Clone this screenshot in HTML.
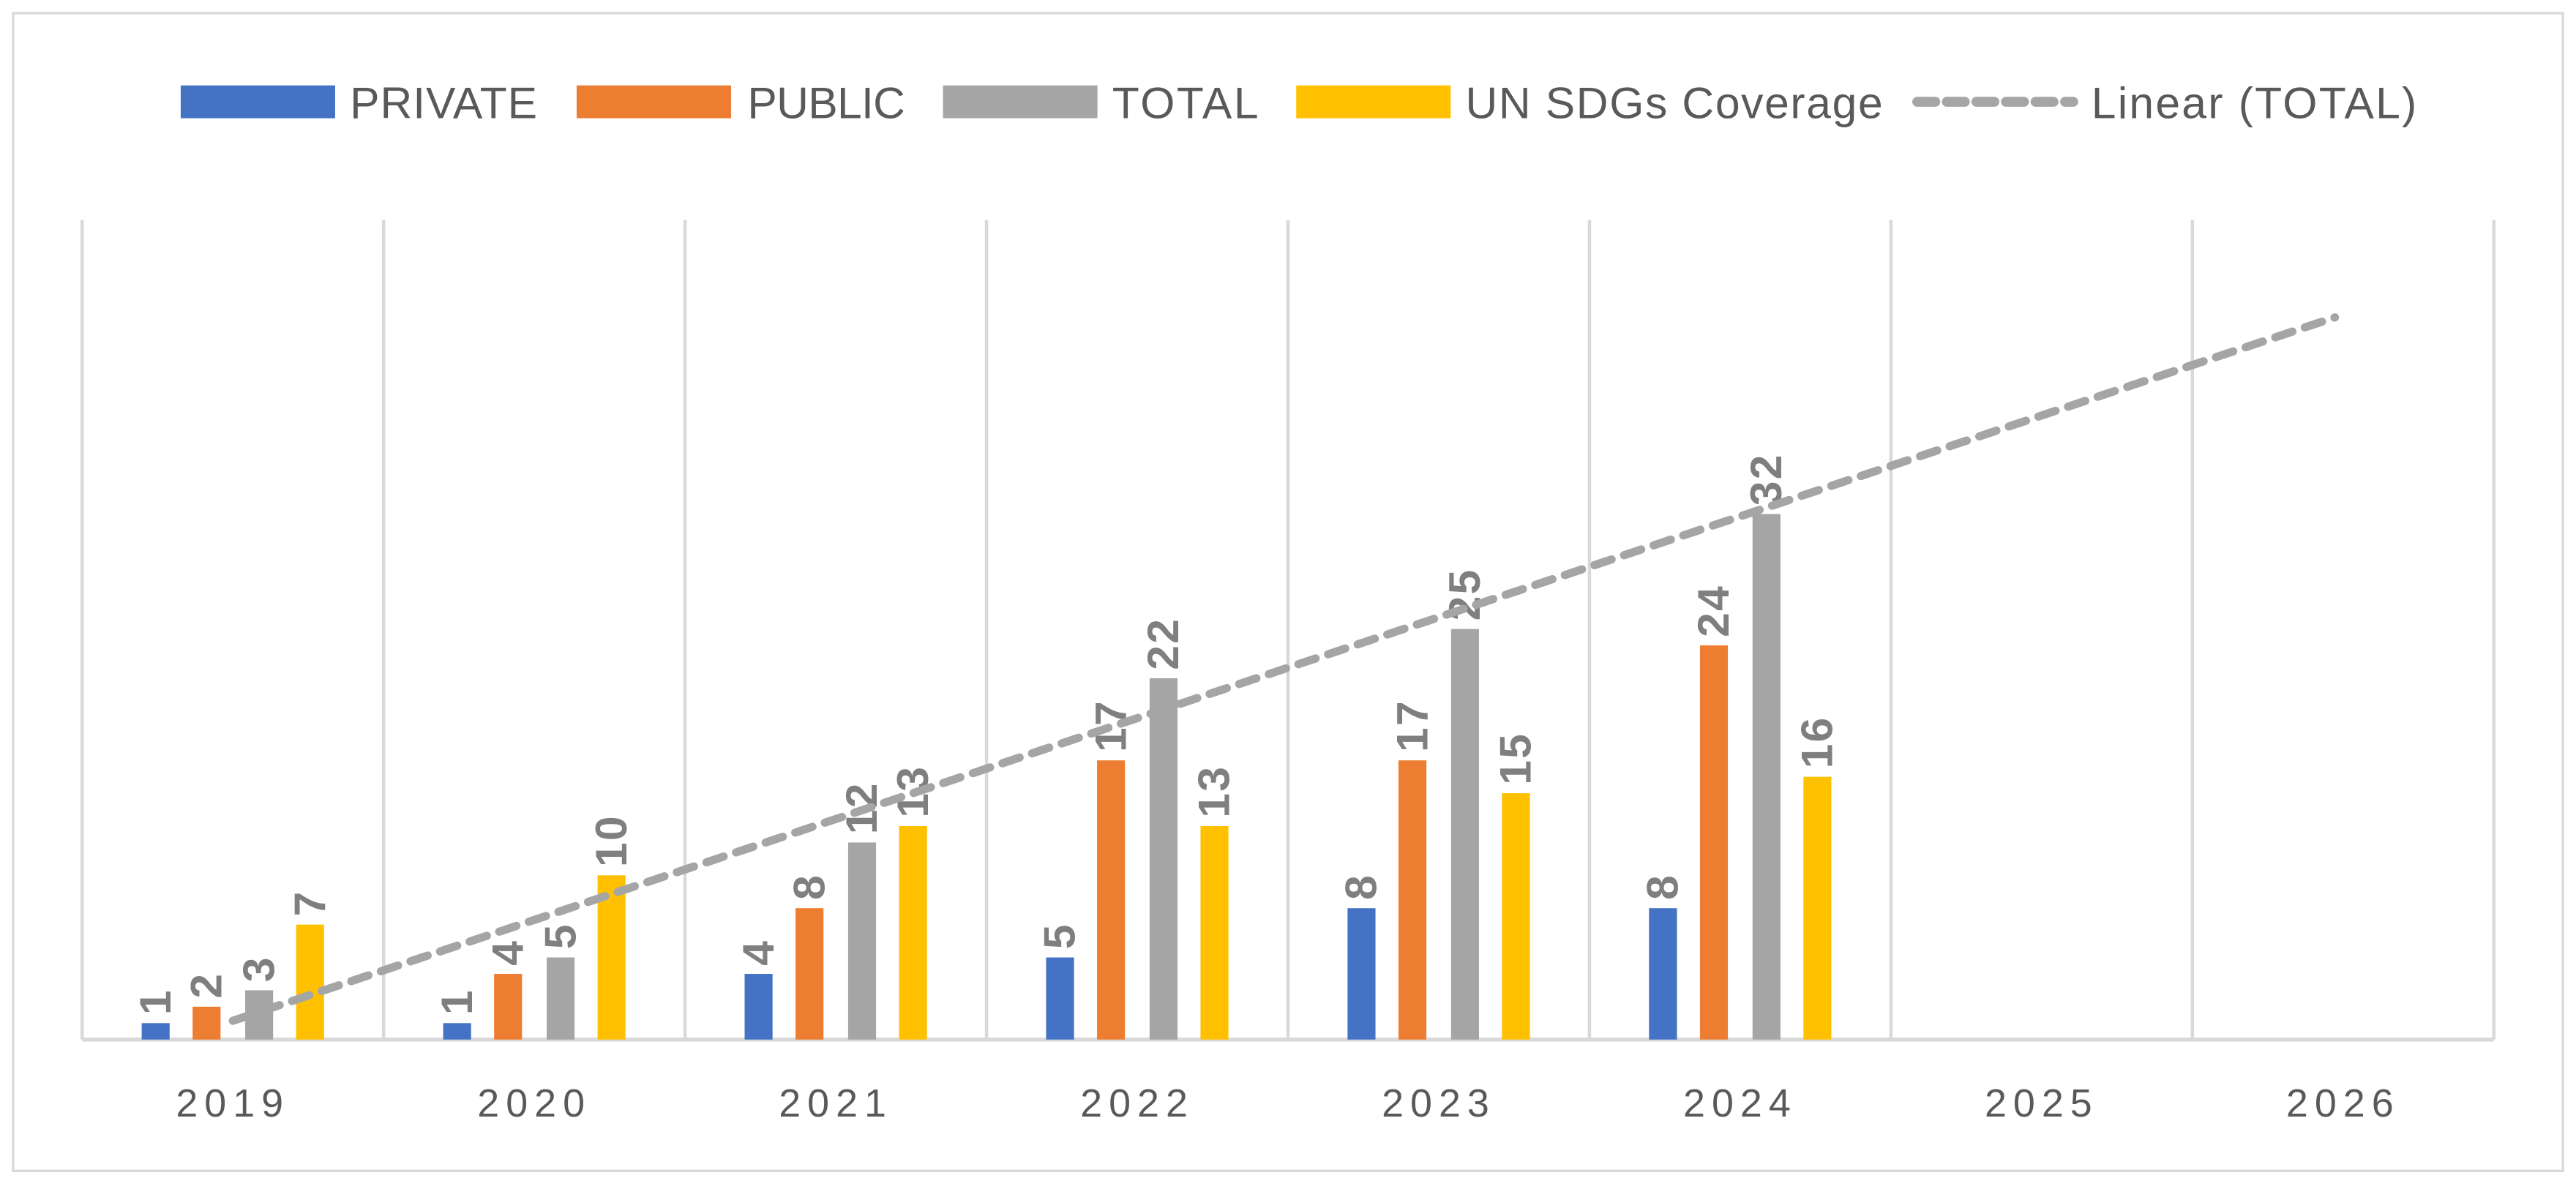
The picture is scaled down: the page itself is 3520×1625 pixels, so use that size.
<!DOCTYPE html>
<html><head><meta charset="utf-8"><style>
html,body{margin:0;padding:0;background:#fff}
svg{display:block}
text{font-family:"Liberation Sans",sans-serif}
</style></head><body>
<svg id="chart" width="3520" height="1625" viewBox="0 0 1568 724" preserveAspectRatio="none" xmlns="http://www.w3.org/2000/svg">
<rect x="8" y="8" width="1552" height="705" fill="#fff" stroke="#d9d9d9" stroke-width="1.5"/>
<g id="grid"></g>
<g id="bars"></g>
<g id="labels"></g>
<g id="legend">
 <g><rect x="110" y="52" width="94" height="20" fill="#4472c4"/><text x="213" y="72" font-size="27" fill="#595959" textLength="114">PRIVATE</text></g>
 <g><rect x="351" y="52" width="94" height="20" fill="#ed7d31"/><text x="455" y="72" font-size="27" fill="#595959" textLength="96">PUBLIC</text></g>
 <g><rect x="574" y="52" width="94" height="20" fill="#a5a5a5"/><text x="677" y="72" font-size="27" fill="#595959" textLength="89">TOTAL</text></g>
 <g><rect x="789" y="52" width="94" height="20" fill="#ffc000"/><text x="892" y="72" font-size="27" fill="#595959" textLength="254">UN SDGs Coverage</text></g>
 <g><line x1="1167" y1="62" x2="1262" y2="62" stroke="#a5a5a5" stroke-width="6" stroke-dasharray="11 7" stroke-linecap="round"/><text x="1273" y="72" font-size="27" fill="#595959" textLength="198">Linear (TOTAL)</text></g>
</g>
</svg>
<script>
const categories=["2019","2020","2021","2022","2023","2024","2025","2026"];
const privateVals=[1,1,4,5,8,8,null,null];
const publicVals=[2,4,8,17,17,24,null,null];
const totalVals=[3,5,12,22,25,32,null,null];
const sdgVals=[7,10,13,13,15,16,null,null];
const NS="http://www.w3.org/2000/svg";
const plotLeft=50,plotRight=1518,plotBase=633,plotTop=134,pxPerUnit=10;
const bw=(plotRight-plotLeft)/categories.length;
const xc=i=>plotLeft+bw*(i+0.5);
const yv=v=>plotBase-v*pxPerUnit;
function mk(tag,attrs,parent){const e=document.createElementNS(NS,tag);for(const k in attrs)e.setAttribute(k,attrs[k]);parent.appendChild(e);return e;}
const grid=document.getElementById('grid'),bars=document.getElementById('bars'),labels=document.getElementById('labels');
for(let i=0;i<=categories.length;i++){
 const l=mk('line',{x1:plotLeft+bw*i,x2:plotLeft+bw*i,y1:plotTop,y2:plotBase,stroke:'#d9d9d9','stroke-width':2},grid);
 
 
}
const ax=mk('line',{x1:plotLeft,x2:plotRight,y1:plotBase,y2:plotBase,stroke:'#d9d9d9','stroke-width':2.5},grid);


categories.forEach((c,i)=>{
 const t=mk('text',{x:xc(i),y:680,'text-anchor':'middle','font-size':24,fill:'#595959','letter-spacing':'4'},grid);
 t.textContent=c;
 
 
});
const series=[[privateVals,'#4472c4',-47,'private'],[publicVals,'#ed7d31',-16,'public'],[totalVals,'#a5a5a5',16,'total'],[sdgVals,'#ffc000',47,'sdg']];
series.forEach(([vals,col,off,nm])=>{
 vals.forEach((v,i)=>{
  if(v==null)return;
  const cx=xc(i)+off;
  const r=mk('rect',{x:cx-8.5,y:yv(v),width:17,height:v*pxPerUnit,fill:col},bars);
  
  
  const t=mk('text',{x:0,y:0,'font-size':27,'font-weight':'bold',fill:'#7f7f7f','letter-spacing':'1',transform:`translate(${cx+9},${yv(v)-5}) rotate(-90)`},labels);
  t.textContent=v;
  
  
 });
});
const pts=totalVals.map((v,i)=>[i+1,v]).filter(p=>p[1]!=null);
const n=pts.length,mx=pts.reduce((s,p)=>s+p[0],0)/n,my=pts.reduce((s,p)=>s+p[1],0)/n;
let sxy=0,sxx=0;pts.forEach(p=>{sxy+=(p[0]-mx)*(p[1]-my);sxx+=(p[0]-mx)**2;});
const slope=sxy/sxx,icpt=my-slope*mx;
const tl=mk('line',{x1:xc(0),y1:yv(icpt+slope*1),x2:xc(7)-5,y2:yv(icpt+slope*(8-5/bw)),stroke:'#a5a5a5','stroke-width':5,'stroke-dasharray':'11 8','stroke-linecap':'round'},labels);


</script>
</body></html>
